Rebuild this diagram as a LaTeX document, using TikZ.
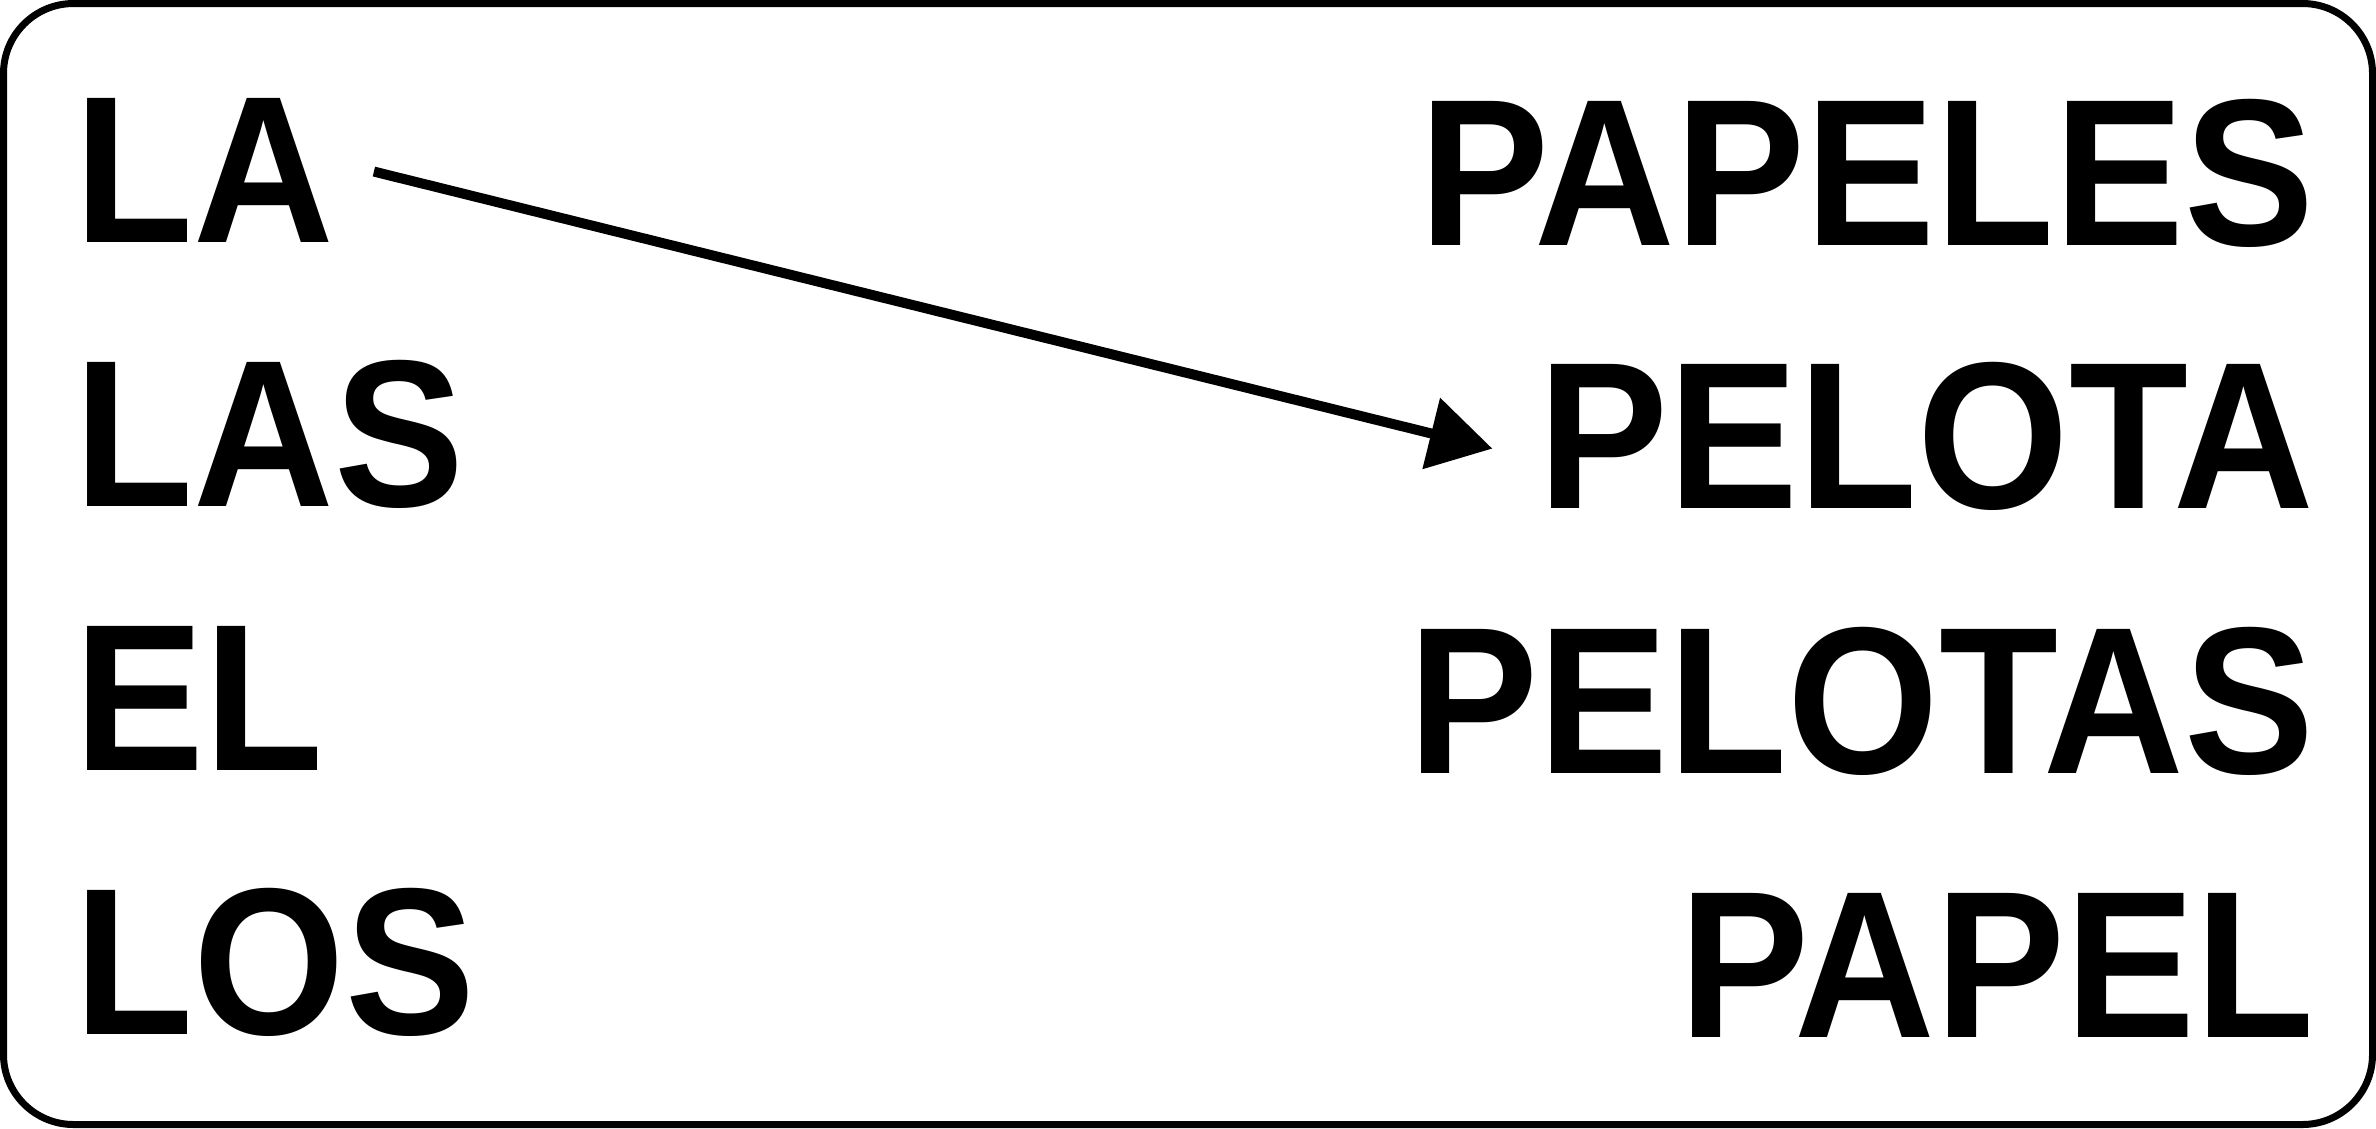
\documentclass[tikz,border=0pt]{standalone}
\usepackage{fontspec}
\newfontfamily\wordfont{Liberation Sans}[UprightFont={* Bold}, FakeStretch=0.93]
\usetikzlibrary{arrows.meta}

\begin{document}
\begin{tikzpicture}[word/.style={inner sep=0pt, font=\wordfont\fontsize{59.6pt}{70pt}\selectfont}]
	\useasboundingbox (0,0) rectangle (23.76,-11.28);
	\draw[line width=0.07cm, rounded corners=0.7cm] (0.035,-0.035) rectangle (23.725,-11.245);

	\node[word, anchor=base west] (la) at (0.74,-2.42) {LA};
	\node[word, anchor=base west] (las) at (0.74,-5.06) {LAS};
	\node[word, anchor=base west] (el) at (0.74,-7.70) {EL};
	\node[word, anchor=base west] (los) at (0.74,-10.34) {LOS};

	\node[word, anchor=base east] (papeles) at (23.15,-2.45) {PAPELES};
	\node[word, anchor=base east] (pelota) at (23.15,-5.08) {PELOTA};
	\node[word, anchor=base east] (pelotas) at (23.15,-7.73) {PELOTAS};
	\node[word, anchor=base east] (papel) at (23.15,-10.37) {PAPEL};

	\draw[line width=0.1cm, -{Triangle[length=0.63cm,width=0.71cm]}, shorten <=0.4cm, shorten >=0.47cm] ([yshift=0.08cm]la.east) -- ([yshift=-0.24cm]pelota.west);
\end{tikzpicture}
\end{document}
